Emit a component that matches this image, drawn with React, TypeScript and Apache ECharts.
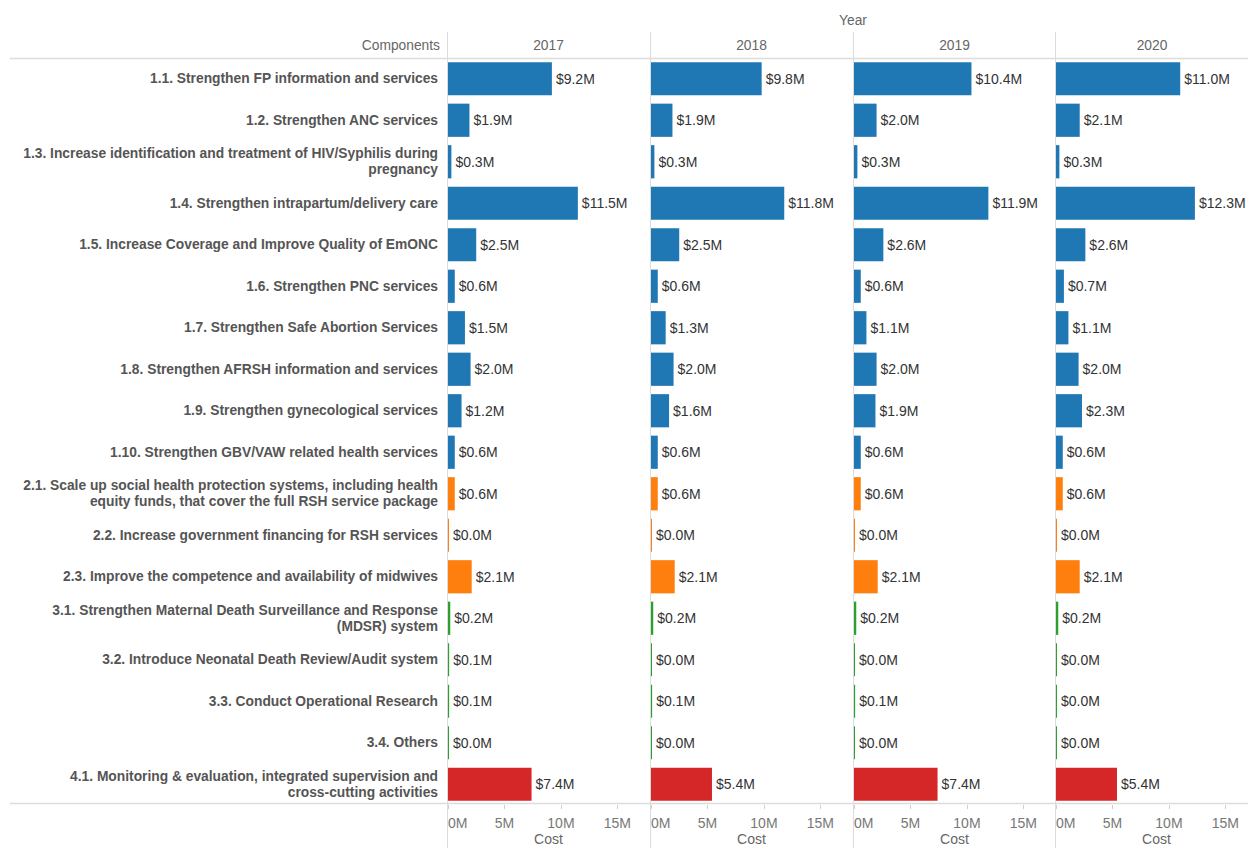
import React, { useEffect, useRef } from "react";
import * as echarts from "echarts";

const categories = [
  "1.1. Strengthen FP information and services",
  "1.2. Strengthen ANC services",
  "1.3. Increase identification and treatment of HIV/Syphilis during\npregnancy",
  "1.4. Strengthen intrapartum/delivery care",
  "1.5. Increase Coverage and Improve Quality of EmONC",
  "1.6. Strengthen PNC services",
  "1.7. Strengthen Safe Abortion Services",
  "1.8. Strengthen AFRSH information and services",
  "1.9. Strengthen gynecological services",
  "1.10. Strengthen GBV/VAW related health services",
  "2.1. Scale up social health protection systems, including health\nequity funds, that cover the full RSH service package",
  "2.2. Increase government financing for RSH services",
  "2.3. Improve the competence and availability of midwives",
  "3.1. Strengthen Maternal Death Surveillance and Response\n(MDSR) system",
  "3.2. Introduce Neonatal Death Review/Audit system",
  "3.3. Conduct Operational Research",
  "3.4. Others",
  "4.1. Monitoring & evaluation, integrated supervision and\ncross-cutting activities",
];

const years = ["2017", "2018", "2019", "2020"];

// Cost in millions of USD
const cost2017 = [9.2, 1.9, 0.3, 11.5, 2.5, 0.6, 1.5, 2.0, 1.2, 0.6, 0.6, 0.04, 2.1, 0.2, 0.1, 0.1, 0.04, 7.4];
const cost2018 = [9.8, 1.9, 0.3, 11.8, 2.5, 0.6, 1.3, 2.0, 1.6, 0.6, 0.6, 0.04, 2.1, 0.2, 0.04, 0.1, 0.04, 5.4];
const cost2019 = [10.4, 2.0, 0.3, 11.9, 2.6, 0.6, 1.1, 2.0, 1.9, 0.6, 0.6, 0.04, 2.1, 0.2, 0.04, 0.1, 0.04, 7.4];
const cost2020 = [11.0, 2.1, 0.3, 12.3, 2.6, 0.7, 1.1, 2.0, 2.3, 0.6, 0.6, 0.04, 2.1, 0.2, 0.04, 0.04, 0.04, 5.4];
const costsByYear = [cost2017, cost2018, cost2019, cost2020];

// Strategic area (first digit of the component code) for each category
const areaOfCategory = ["1", "1", "1", "1", "1", "1", "1", "1", "1", "1", "2", "2", "2", "3", "3", "3", "3", "4"];
const areaColors: Record<string, string> = {
  "1": "#1f77b4",
  "2": "#ff7f0e",
  "3": "#2ca02c",
  "4": "#d62728",
};

const xTicks = ["0M", "5M", "10M", "15M"];

const FONT = 'Arial, "Liberation Sans", sans-serif';

export default function App() {
  const ref = useRef<HTMLDivElement>(null);

  useEffect(() => {
    if (!ref.current) return;
    const chart = echarts.init(ref.current, null, { renderer: "svg" });

    const panelLeft = [448, 651, 854, 1056];
    const panelWidth = 201;
    const gridTop = 58;
    const gridHeight = 747;
    const xMax = 17.8;

    const grids = panelLeft.map((l) => ({
      left: l,
      top: gridTop,
      width: panelWidth,
      height: gridHeight,
      containLabel: false,
      outerBoundsMode: "none",
    }));

    const xAxes = panelLeft.map((_, i) => ({
      type: "value",
      gridIndex: i,
      min: 0,
      max: xMax,
      interval: 5,
      axisLine: { show: false },
      axisTick: { show: true, length: 4, lineStyle: { color: "#cfcfcf" } },
      splitLine: { show: false },
      axisLabel: {
        fontFamily: FONT,
        fontSize: 14,
        color: "#777",
        margin: 11,
        showMaxLabel: false,
        alignMinLabel: "left",
        formatter: (v: number) => {
          const idx = Math.round(v / 5);
          return xTicks[idx] ?? "";
        },
      },
      name: "Cost",
      nameLocation: "middle",
      nameGap: 27,
      nameMoveOverlap: false,
      nameTextStyle: { fontFamily: FONT, fontSize: 14, color: "#666" },
    }));

    const yAxes = panelLeft.map((_, i) => ({
      type: "category",
      gridIndex: i,
      data: categories,
      inverse: true,
      axisLine: { show: false },
      axisTick: { show: false },
      splitLine: { show: false },
      axisLabel: {
        show: i === 0,
        margin: 10,
        align: "right",
        fontFamily: FONT,
        fontSize: 13.8,
        fontWeight: "bold",
        color: "#555",
        lineHeight: 16,
        interval: 0,
      },
    }));

    const series = years.map((y, i) => ({
      type: "bar",
      name: y,
      xAxisIndex: i,
      yAxisIndex: i,
      barWidth: "80%",
      barMinHeight: 1,
      data: costsByYear[i].map((v, k) => ({
        value: v,
        itemStyle: { color: areaColors[areaOfCategory[k]] },
      })),
      label: {
        show: true,
        position: "right",
        distance: 4,
        fontFamily: FONT,
        fontSize: 14,
        color: "#333",
        formatter: (p: any) => "$" + Number(p.value).toFixed(1) + "M",
      },
    }));

    const lineColor = "#dcdcdc";
    const graphic: any[] = [
      {
        type: "text",
        x: 853,
        y: 20,
        style: {
          text: "Year",
          fontFamily: FONT,
          fontSize: 13.8,
          fill: "#666",
          align: "center",
          verticalAlign: "middle",
        },
      },
      {
        type: "text",
        x: 440,
        y: 45,
        style: {
          text: "Components",
          fontFamily: FONT,
          fontSize: 13.8,
          fill: "#666",
          align: "right",
          verticalAlign: "middle",
        },
      },
      ...years.map((y, i) => ({
        type: "text",
        x: panelLeft[i] + (i === 3 ? 192 : panelWidth) / 2,
        y: 45,
        style: {
          text: y,
          fontFamily: FONT,
          fontSize: 13.8,
          fill: "#666",
          align: "center",
          verticalAlign: "middle",
        },
      })),
      {
        type: "line",
        shape: { x1: 10, y1: 58.5, x2: 1248, y2: 58.5 },
        style: { stroke: lineColor, lineWidth: 1.5 },
      },
      {
        type: "line",
        shape: { x1: 10, y1: 803.5, x2: 1248, y2: 803.5 },
        style: { stroke: lineColor, lineWidth: 1.5 },
      },
      ...panelLeft.map((l) => ({
        type: "line",
        shape: { x1: l - 0.5, y1: 32, x2: l - 0.5, y2: 848 },
        style: { stroke: lineColor, lineWidth: 1 },
      })),
    ];

    chart.setOption({
      animation: false,
      backgroundColor: "#ffffff",
      grid: grids,
      xAxis: xAxes,
      yAxis: yAxes,
      series,
      graphic,
    } as any);

    return () => chart.dispose();
  }, []);

  return (
    <div
      ref={ref}
      style={{ position: "fixed", left: 0, top: 0, width: 1248, height: 848 }}
    />
  );
}
